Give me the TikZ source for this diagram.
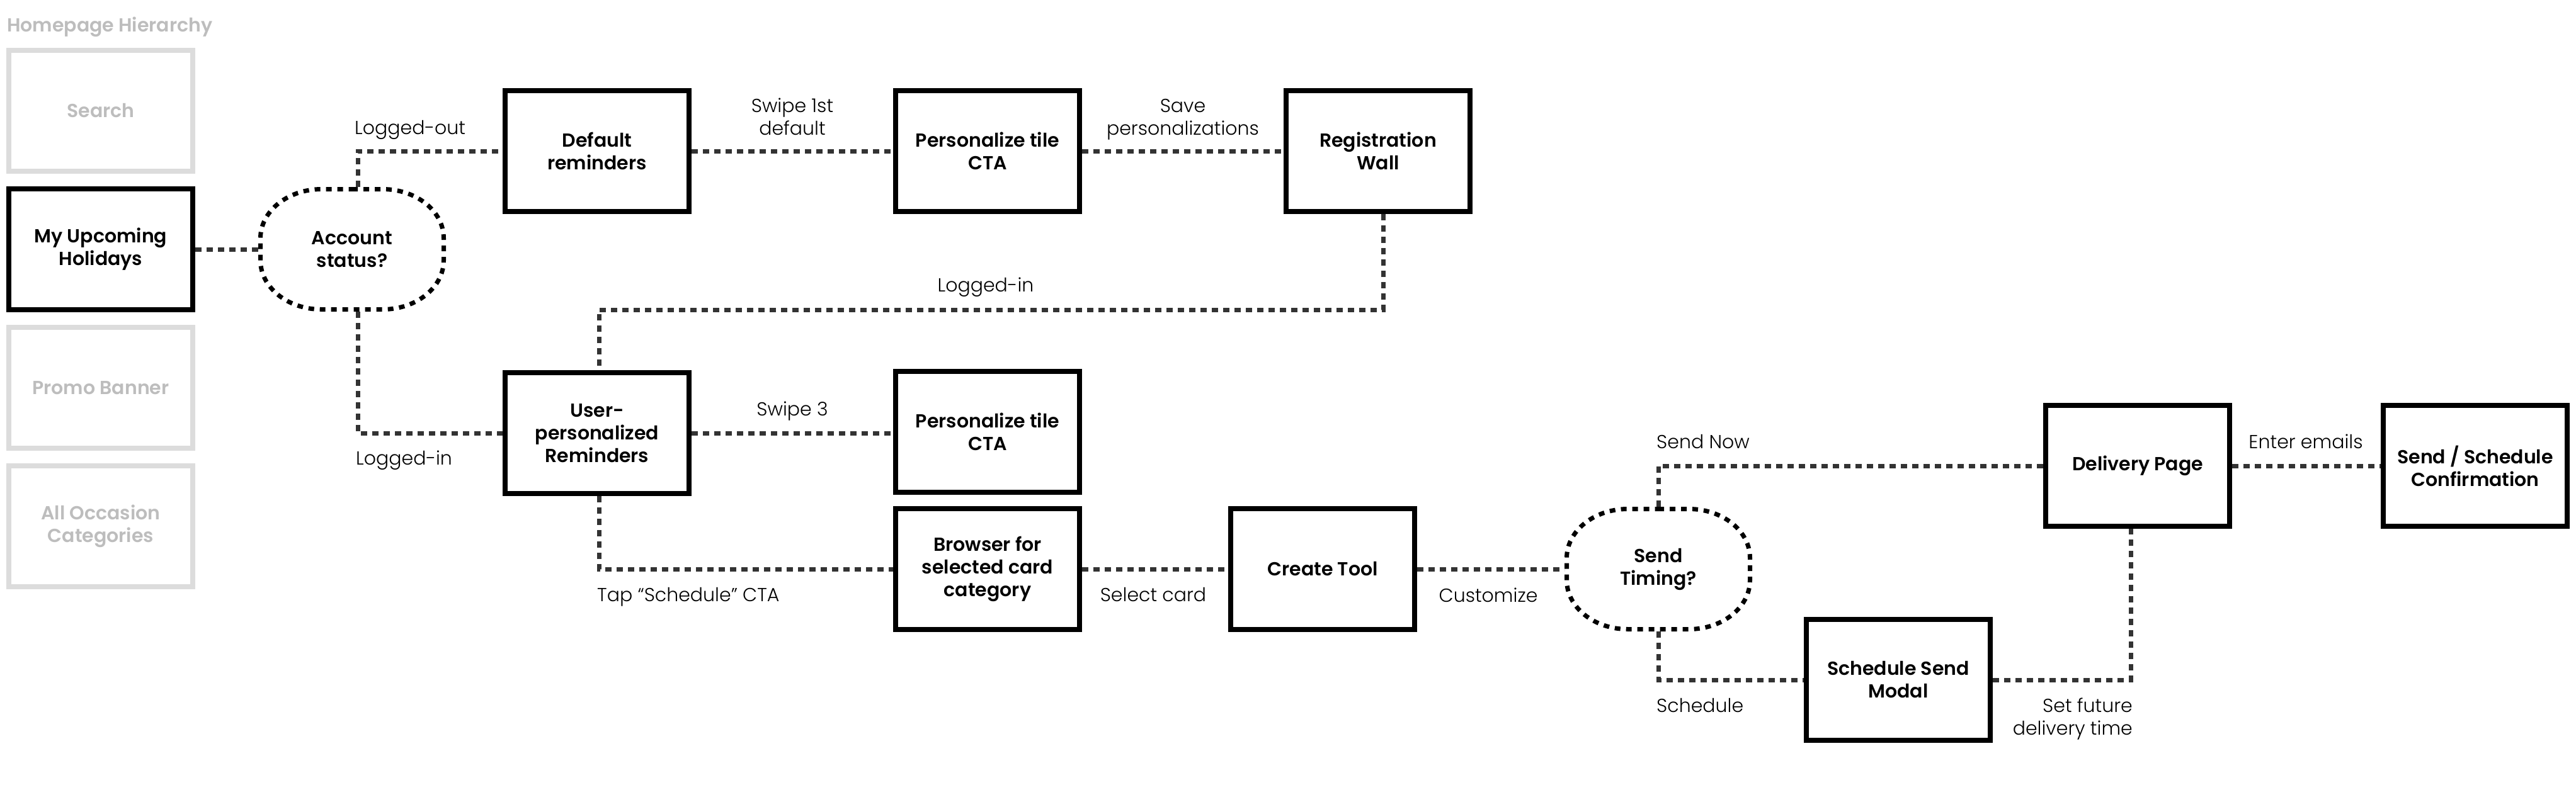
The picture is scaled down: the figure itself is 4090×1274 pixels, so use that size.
\documentclass[tikz,border=0pt]{standalone}
\usepackage{fontspec}
\setmainfont{Poppins}[UprightFont={* Light}, BoldFont={* SemiBold}]
\definecolor{linkgray}{HTML}{333333}
\definecolor{ghostline}{HTML}{DCDCDC}
\definecolor{ghosttext}{HTML}{BDBDBD}
\newcommand\decborder[1]{%
  \draw[decline] ([yshift=-3.5pt]#1.north) -- ++(48.5,0)
    arc[start angle=-90, end angle=0, x radius=97, y radius=78] -- ++(0,35)
    arc[start angle=0, end angle=90, x radius=97, y radius=78] -- ++(-97,0)
    arc[start angle=90, end angle=180, x radius=97, y radius=78] -- ++(0,-35)
    arc[start angle=180, end angle=270, x radius=97, y radius=78] -- cycle;}
\begin{document}
\begin{tikzpicture}[x=1pt,y=-1pt,
  box/.style={draw=black, fill=white, line width=8pt, minimum width=292pt, minimum height=192pt,
    inner sep=0pt, align=center, font=\fontsize{30}{36}\selectfont\bfseries, text=black},
  ghost/.style={box, draw=ghostline, text=ghosttext},
  decision/.style={rectangle, draw=none, minimum width=298pt, minimum height=198pt, inner sep=0pt,
    outer sep=0pt, align=center, font=\fontsize{30}{36}\selectfont\bfseries, text=black},
  decline/.style={draw=black, line width=7pt, dash pattern=on 9pt off 9pt},
  link/.style={draw=linkgray, line width=7pt, dash pattern=on 10pt off 8pt},
  lbl/.style={font=\fontsize{30}{36}\selectfont, text=black, inner sep=0pt, align=center},
  heading/.style={font=\fontsize{30}{36}\selectfont\bfseries, text=ghosttext, inner sep=0pt},
]
\useasboundingbox (0,0) rectangle (4090,1274);

% left hierarchy column
\node[heading, anchor=base west] (title) at (11,50) {Homepage Hierarchy};
\node[ghost] (search) at (160,176) {Search};
\node[box] (muh) at (160,396) {My Upcoming\\Holidays};
\node[ghost] (promo) at (160,616) {Promo Banner};
\node[ghost] (allocc) at (160,836) {All Occasion\\Categories};

% flow nodes
\node[decision] (acct) at (559,396) {Account\\status?};
\decborder{acct}
\node[box] (defrem) at (948,240) {Default\\reminders};
\node[box] (pers1) at (1568,240) {Personalize tile\\CTA};
\node[box] (regwall) at (2188,240) {Registration\\Wall};
\node[box] (upr) at (948,688) {User-\\personalized\\Reminders};
\node[box] (pers2) at (1568,686) {Personalize tile\\CTA};
\node[box] (browser) at (1568,904) {Browser for\\selected card\\category};
\node[box] (create) at (2100,904) {Create Tool};
\node[decision] (timing) at (2633,904) {Send\\Timing?};
\decborder{timing}
\node[box] (delivery) at (3394,740) {Delivery Page};
\node[box] (confirm) at (3930,740) {Send / Schedule\\Confirmation};
\node[box] (modal) at (3014,1080) {Schedule Send\\Modal};

\coordinate (loginrow) at (0,492);

% connectors
\draw[link] (muh.east) -- (acct.west);
\draw[link] ([xshift=9pt]acct.north) |- (defrem.west);
\draw[link] ([xshift=9pt]acct.south) |- (upr.west);
\draw[link] (defrem.east) -- (pers1.west);
\draw[link] (pers1.east) -- (regwall.west);
\draw[link] ([xshift=8pt]regwall.south) |- ([xshift=3pt]upr.north |- loginrow) -- ([xshift=3pt]upr.north);
\draw[link] (upr.east) -- (upr.east -| pers2.west);
\draw[link] ([xshift=3pt]upr.south) |- (browser.west);
\draw[link] (browser.east) -- (create.west);
\draw[link] (create.east) -- (timing.west);
\draw[link] (timing.north) |- (delivery.west);
\draw[link] (timing.south) |- (modal.west);
\draw[link] (delivery.east) -- (confirm.west);
\draw[link] (modal.east) -| ([xshift=-11pt]delivery.south);

% labels
\node[lbl, anchor=base west] (lout) at (563,213) {Logged-out};
\node[lbl, anchor=base west] (lin1) at (565,738) {Logged-in};
\node[lbl, anchor=base] (lswipe1) at (1258,214) {Swipe 1st\\default};
\node[lbl, anchor=base] (lsave) at (1878,214) {Save\\personalizations};
\node[lbl, anchor=base] (lin2) at (1565,463) {Logged-in};
\node[lbl, anchor=base] (lswipe3) at (1258,660) {Swipe 3};
\node[lbl, anchor=base west] (ltap) at (948,955) {Tap “Schedule” CTA};
\node[lbl, anchor=base] (lselect) at (1831,955) {Select card};
\node[lbl, anchor=base] (lcustom) at (2363,956) {Customize};
\node[lbl, anchor=base west] (lnow) at (2630,712) {Send Now};
\node[lbl, anchor=base west] (lsched) at (2630,1131) {Schedule};
\node[lbl, anchor=base] (lemails) at (3661,712) {Enter emails};
\node[lbl, anchor=base east, align=right] (lfuture) at (3386,1167) {Set future\\delivery time};
\end{tikzpicture}
\end{document}
